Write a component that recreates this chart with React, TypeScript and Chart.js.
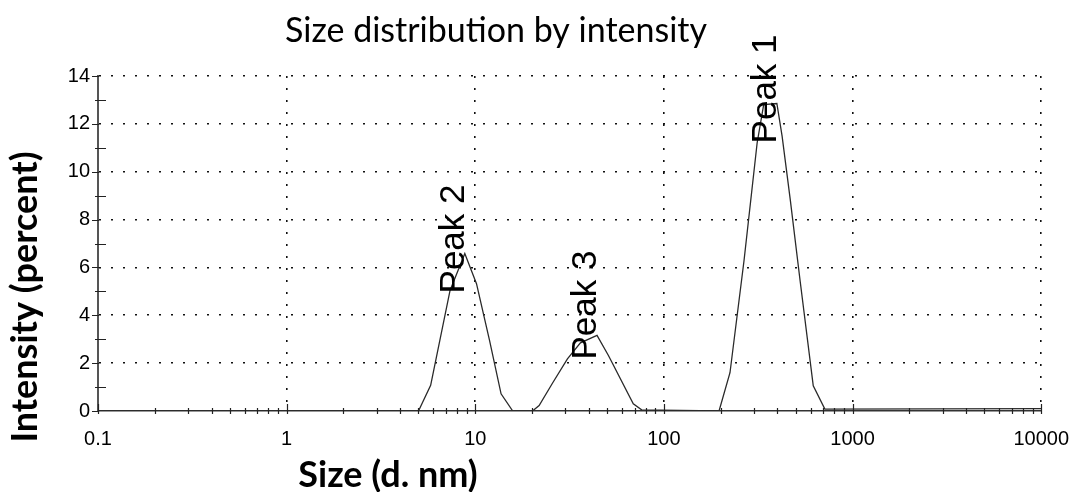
import { useEffect, useRef } from 'react';
import { Chart, registerables } from 'chart.js';

Chart.register(...registerables);

// ---- data ----
const SIZES_NM = [
  0.1, 5.0, 5.8, 7.35, 8.8, 10.15, 11.9, 13.7, 15.8,
  20.1, 21.8, 25.6, 30.8, 36.1, 44.2, 50.8, 68.8, 76.2,
  196, 224, 266, 312, 338, 397, 423, 468, 528, 619, 713, 10000,
];
const INTENSITY_PCT = [
  0, 0, 1.07, 5.04, 6.58, 5.32, 2.95, 0.72, 0,
  0, 0.23, 1.15, 2.18, 2.85, 3.16, 2.32, 0.3, 0.05,
  0, 1.6, 6.3, 11.2, 12.8, 12.85, 11.5, 8.8, 5.4, 1.05, 0.08, 0.1,
];

const X_TICKS = [0.1, 1, 10, 100, 1000, 10000];
const X_TICK_LABELS = ['0.1', '1', '10', '100', '1000', '10000'];
const X_MINOR_MULTIPLIERS = [2, 3, 4, 5, 6, 7, 8, 9];
const Y_TICKS = [0, 2, 4, 6, 8, 10, 12, 14];
const Y_TICK_LABELS = ['0', '2', '4', '6', '8', '10', '12', '14'];
const Y_MINOR_TICKS = [1, 3, 5, 7, 9, 11, 13];

const PEAK_LABELS = ['Peak 1', 'Peak 2', 'Peak 3'];
const PEAK_LABEL_SIZE = [338, 7.5, 37.5];
const PEAK_LABEL_INTENSITY = [13.46, 7.19, 4.43];

const TITLE = 'Size distribution by intensity';
const X_TITLE = 'Size (d. nm)';
const Y_TITLE = 'Intensity (percent)';

const decorPlugin = {
  id: 'decor',
  afterDatasetsDraw(chart: any) {
    const { ctx, chartArea } = chart;
    const xs = chart.scales.x;
    const ys = chart.scales.y;
    const { left, bottom } = chartArea;
    ctx.save();
    ctx.strokeStyle = '#222';
    ctx.lineWidth = 1.2;
    ctx.beginPath();
    for (let i = 0; i < X_TICKS.length - 1; i++) {
      for (const m of X_MINOR_MULTIPLIERS) {
        const px = Math.round(xs.getPixelForValue(X_TICKS[i] * m)) + 0.5;
        ctx.moveTo(px, bottom - 3);
        ctx.lineTo(px, bottom + 3);
      }
    }
    for (const v of X_TICKS) {
      const px = Math.round(xs.getPixelForValue(v)) + 0.5;
      ctx.moveTo(px, bottom - 7);
      ctx.lineTo(px, bottom + 3);
    }
    for (const v of Y_TICKS) {
      const py = Math.round(ys.getPixelForValue(v)) + 0.5;
      ctx.moveTo(left - 6, py);
      ctx.lineTo(left + 1, py);
    }
    for (const v of Y_MINOR_TICKS) {
      const py = Math.round(ys.getPixelForValue(v)) + 0.5;
      ctx.moveTo(left - 3, py);
      ctx.lineTo(left + 8, py);
    }
    ctx.stroke();
    ctx.restore();
  },
  afterDraw(chart: any) {
    const { ctx } = chart;
    const xs = chart.scales.x;
    const ys = chart.scales.y;
    ctx.save();
    ctx.fillStyle = '#000';

    // title
    ctx.font = '34px Lato';
    ctx.textAlign = 'center';
    ctx.textBaseline = 'alphabetic';
    ctx.fillText(TITLE, 496, 42);

    // x axis title
    ctx.font = 'bold 36px Lato';
    ctx.fillText(X_TITLE, 388, 487);

    // y axis title
    ctx.save();
    ctx.translate(25, 297);
    ctx.rotate(-Math.PI / 2);
    ctx.textBaseline = 'middle';
    ctx.fillText(Y_TITLE, 0, 0);
    ctx.restore();

    // peak labels
    ctx.font = '35px "Liberation Sans"';
    for (let i = 0; i < PEAK_LABELS.length; i++) {
      const px = xs.getPixelForValue(PEAK_LABEL_SIZE[i]);
      const py = ys.getPixelForValue(PEAK_LABEL_INTENSITY[i]);
      ctx.save();
      ctx.translate(px, py);
      ctx.rotate(-Math.PI / 2);
      ctx.textAlign = 'center';
      ctx.textBaseline = 'alphabetic';
      ctx.fillText(PEAK_LABELS[i], 0, 12);
      ctx.restore();
    }
    ctx.restore();
  },
};

export default function App() {
  const canvasRef = useRef<HTMLCanvasElement | null>(null);

  useEffect(() => {
    const canvas = canvasRef.current;
    if (!canvas) return;
    const chart = new Chart(canvas, {
      type: 'line',
      data: {
        datasets: [
          {
            data: SIZES_NM.map((s, i) => ({ x: s, y: INTENSITY_PCT[i] })),
            borderColor: '#2a2a2a',
            borderWidth: 1.3,
            pointRadius: 0,
            tension: 0,
            fill: false,
          },
        ],
      },
      options: {
        responsive: false,
        animation: false,
        devicePixelRatio: 1,
        layout: { padding: { top: 76, right: 35, left: 0, bottom: 0 } },
        plugins: {
          legend: { display: false },
          title: { display: false },
          tooltip: { enabled: false },
        },
        scales: {
          x: {
            type: 'logarithmic',
            min: 0.1,
            max: 10000,
            afterBuildTicks: (scale: any) => {
              scale.ticks = X_TICKS.map((v) => ({ value: v }));
            },
            afterFit: (scale: any) => {
              scale.height = 81;
            },
            ticks: {
              autoSkip: false,
              maxRotation: 0,
              padding: 16,
              color: '#000',
              font: { family: '"Liberation Sans"', size: 20 },
              callback: (_v: any, i: number) => X_TICK_LABELS[i],
            },
            grid: {
              drawTicks: false,
              lineWidth: 1.6,
              color: (c: any) => (c.index === 0 ? 'rgba(0,0,0,0)' : '#111'),
            },
            border: { display: true, color: '#333', width: 1.5, dash: [2, 10] },
          },
          y: {
            type: 'linear',
            min: 0,
            max: 14,
            afterBuildTicks: (scale: any) => {
              scale.ticks = Y_TICKS.map((v) => ({ value: v }));
            },
            afterFit: (scale: any) => {
              scale.width = 98;
            },
            ticks: {
              padding: 8,
              color: '#000',
              font: { family: '"Liberation Sans"', size: 20 },
              callback: (_v: any, i: number) => Y_TICK_LABELS[i],
            },
            grid: {
              drawTicks: false,
              lineWidth: 1.6,
              color: (c: any) => (c.index === 0 ? 'rgba(0,0,0,0)' : '#111'),
            },
            border: { display: true, color: '#555', width: 2, dash: [2, 10] },
          },
        },
      },
      plugins: [decorPlugin],
    } as any);

    return () => chart.destroy();
  }, []);

  return (
    <div style={{ position: 'fixed', left: 0, top: 0, width: 1085, height: 492, background: '#fff' }}>
      <canvas ref={canvasRef} width={1085} height={492} style={{ display: 'block' }} />
    </div>
  );
}
